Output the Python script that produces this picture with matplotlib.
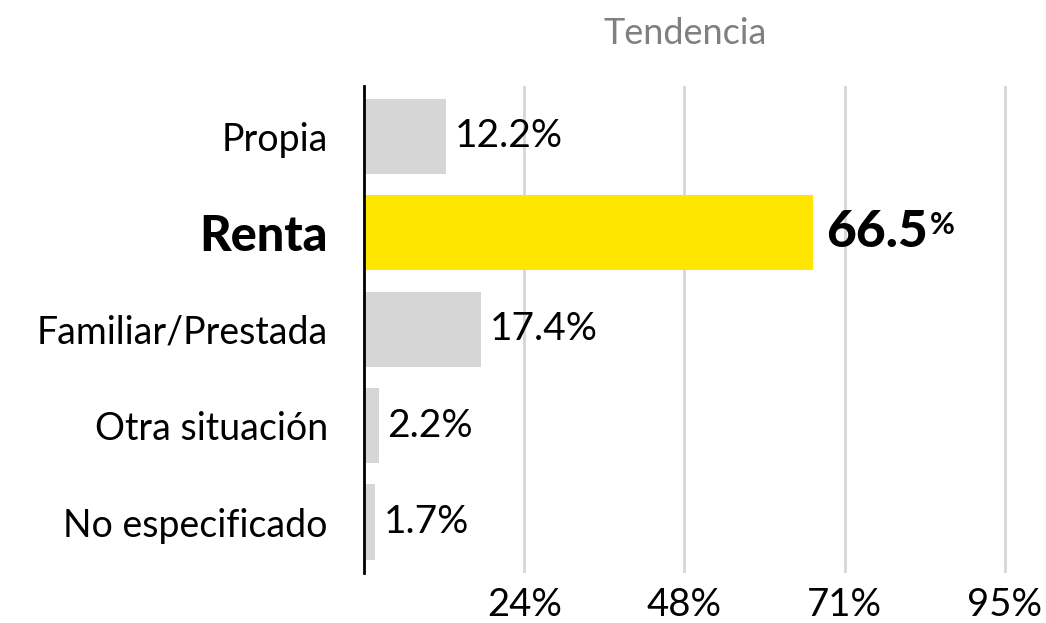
import matplotlib
matplotlib.use("Agg")
import matplotlib.pyplot as plt
from matplotlib.ticker import FixedLocator, FuncFormatter

categories = ["Propia", "Renta", "Familiar/Prestada", "Otra situación", "No especificado"]
values = [12.2, 66.5, 17.4, 2.2, 1.7]
highlight = "Renta"
tick_values = [23.75, 47.5, 71.25, 95.0]

GRAY = "#d6d6d6"
YELLOW = "#ffe600"

plt.rcParams["font.family"] = ["Lato", "DejaVu Sans"]

fig = plt.figure(figsize=(10.46, 6.23), dpi=100)
ax = fig.add_axes([0.348, 0.08, 0.645, 0.782])

ypos = list(range(len(categories)))
colors = [YELLOW if c == highlight else GRAY for c in categories]
ax.barh(ypos, values, height=0.78, color=colors, zorder=2)

ax.set_ylim(len(categories) - 0.47, -0.524)
ax.set_xlim(0, 100)

ax.xaxis.set_major_locator(FixedLocator(tick_values))
ax.xaxis.set_major_formatter(FuncFormatter(lambda v, _: f"{round(v)}%"))
ax.grid(axis="x", color=GRAY, linewidth=2, zorder=0)
ax.tick_params(axis="x", length=0, labelsize=27.5, pad=10)
ax.tick_params(axis="y", length=0, pad=26)

ax.set_yticks(ypos)
ax.set_yticklabels(categories)
for lbl, c in zip(ax.get_yticklabels(), categories):
    if c == highlight:
        lbl.set_fontsize(35)
        lbl.set_fontweight("black")
    else:
        lbl.set_fontsize(27)

for s in ("top", "right", "bottom"):
    ax.spines[s].set_visible(False)
ax.spines["left"].set_linewidth(2)
ax.spines["left"].set_zorder(3)

for y, v, c in zip(ypos, values, categories):
    if c == highlight:
        t = ax.annotate(f"{v:.1f}", (v, y), xytext=(10, 0), textcoords="offset points",
                        va="center", ha="left", fontsize=37, fontweight="black")
        ax.annotate("%", (1, 0.66), xycoords=t, xytext=(1, 0),
                    textcoords="offset points", va="center", ha="left",
                    fontsize=22, fontweight="bold")
    else:
        ax.annotate(f"{v:.1f}%", (v, y), xytext=(6, 0), textcoords="offset points",
                    va="center", ha="left", fontsize=28)

fig.text(0.655, 0.947, "Tendencia", ha="center", va="center", fontsize=26, color="#808080")

fig.savefig("out.png", dpi=100)
